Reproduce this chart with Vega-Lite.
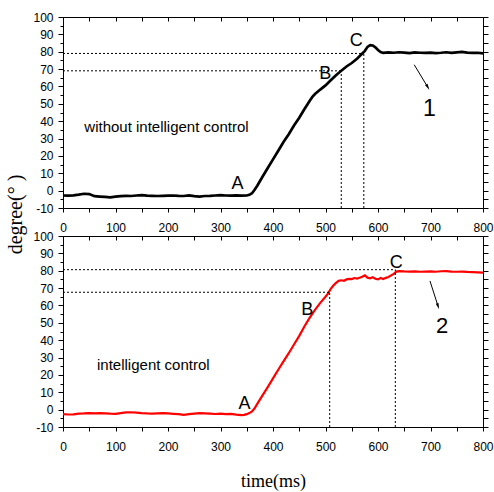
{
  "$schema": "https://vega.github.io/schema/vega-lite/v6.json",
  "padding": {"left": 5, "top": 11, "right": 5, "bottom": 5},
  "spacing": 28,
  "bounds": "flush",
  "config": {
    "view": {"stroke": null},
    "axis": {"grid": false, "domainColor": "#000", "tickColor": "#000", "labelColor": "#000", "labelFont": "Liberation Sans", "labelFontSize": 12, "labelFlush": false, "labelOverlap": false, "titleColor": "#000", "domainWidth": 1, "tickWidth": 1}
  },
  "vconcat": [
    {
      "width": 420,
      "height": 191,
      "resolve": {"axis": {"x": "independent", "y": "independent"}},
      "layer": [
        {
          "data": {"values": [
            {"t":0,"v":-2.8},{"t":10,"v":-2.9},{"t":20,"v":-2.7},{"t":30,"v":-2.3},{"t":40,"v":-1.8},{"t":50,"v":-2.0},{"t":60,"v":-3.2},{"t":70,"v":-3.4},{"t":80,"v":-3.6},{"t":90,"v":-3.9},
            {"t":100,"v":-3.5},{"t":110,"v":-3.2},{"t":120,"v":-3.0},{"t":130,"v":-3.1},{"t":140,"v":-2.8},{"t":150,"v":-2.6},{"t":160,"v":-2.9},{"t":170,"v":-3.0},{"t":180,"v":-3.1},{"t":190,"v":-3.0},
            {"t":200,"v":-2.9},{"t":210,"v":-2.8},{"t":220,"v":-3.0},{"t":230,"v":-3.1},{"t":240,"v":-2.7},{"t":250,"v":-3.2},{"t":260,"v":-3.4},{"t":270,"v":-3.1},{"t":280,"v":-3.0},{"t":290,"v":-2.8},
            {"t":300,"v":-2.6},{"t":310,"v":-2.8},{"t":320,"v":-2.9},{"t":330,"v":-2.7},{"t":340,"v":-2.9},{"t":350,"v":-2.8},{"t":355,"v":-2.4},{"t":360,"v":-1.5},{"t":365,"v":0.5},{"t":370,"v":2.8},
            {"t":380,"v":8},{"t":390,"v":13},{"t":400,"v":18},{"t":410,"v":23},{"t":420,"v":28},{"t":430,"v":32.5},{"t":440,"v":37.5},{"t":450,"v":42},{"t":460,"v":47},{"t":470,"v":51.8},
            {"t":475,"v":54},{"t":480,"v":55.6},{"t":490,"v":58.2},{"t":500,"v":60.6},{"t":510,"v":63.6},{"t":520,"v":66.5},{"t":530,"v":69},{"t":540,"v":71.5},{"t":550,"v":73.5},{"t":560,"v":76},
            {"t":570,"v":79},{"t":575,"v":80.5},{"t":580,"v":82.8},{"t":585,"v":83.8},{"t":590,"v":83.6},{"t":595,"v":82.5},{"t":600,"v":81},{"t":605,"v":79.8},{"t":610,"v":79.3},{"t":620,"v":79.6},
            {"t":630,"v":79.4},{"t":640,"v":79.7},{"t":650,"v":79.5},{"t":660,"v":79.2},{"t":670,"v":79.6},{"t":680,"v":79.4},{"t":690,"v":79.3},{"t":700,"v":79.5},{"t":710,"v":79.2},{"t":720,"v":79.4},
            {"t":730,"v":79.7},{"t":740,"v":79.3},{"t":750,"v":79.6},{"t":760,"v":79.9},{"t":770,"v":79.5},{"t":780,"v":79.3},{"t":790,"v":79.4},{"t":800,"v":79.1}
          ]},
          "mark": {"type": "line", "color": "#000", "strokeWidth": 2.7},
          "encoding": {
            "x": {"field": "t", "type": "quantitative", "scale": {"domain": [0, 800], "nice": false},
                  "axis": {"orient": "bottom", "title": null, "values": [0,50,100,150,200,250,300,350,400,450,500,550,600,650,700,750,800],
                           "labelExpr": "datum.value % 100 === 0 ? '' + datum.value : ''", "tickSize": 4, "labelPadding": 10}},
            "y": {"field": "v", "type": "quantitative", "scale": {"domain": [-10, 100], "nice": false},
                  "axis": {"orient": "left", "values": [-10,-5,0,5,10,15,20,25,30,35,40,45,50,55,60,65,70,75,80,85,90,95,100],
                           "labelExpr": "datum.value % 10 === 0 ? '' + datum.value : ''",
                           "tickSize": {"condition": {"test": "datum.value % 10 === 0", "value": 5}, "value": 3}, "labelPadding": 5,
                           "title": "degree(°  )", "titleFont": "Liberation Serif", "titleFontSize": 20, "titleFontWeight": "normal",
                           "titleAngle": 270, "titleX": -48, "titleY": 197, "titleAlign": "center", "titleBaseline": "middle"}}
          }
        },
        {
          "data": {"values": [
            {"x":0,"x2":573,"y":79,"y2":79},{"x":0,"x2":530,"y":69,"y2":69},{"x":530,"x2":530,"y":-10,"y2":69},{"x":573,"x2":573,"y":-10,"y2":79}
          ]},
          "mark": {"type": "rule", "color": "#000", "strokeWidth": 1, "strokeDash": [2, 2]},
          "encoding": {
            "x": {"field": "x", "type": "quantitative", "axis": {"orient": "top", "title": null, "labels": false, "values": [0,50,100,150,200,250,300,350,400,450,500,550,600,650,700,750,800], "tickSize": -4}},
            "x2": {"field": "x2"},
            "y": {"field": "y", "type": "quantitative", "axis": {"orient": "right", "title": null, "labels": false, "values": [-10,-5,0,5,10,15,20,25,30,35,40,45,50,55,60,65,70,75,80,85,90,95,100], "tickSize": 5}},
            "y2": {"field": "y2"}
          }
        },
        {
          "data": {"values": [{"x":332.5,"y":3.9,"label":"A"},{"x":499.7,"y":67.2,"label":"B"},{"x":558.4,"y":86.2,"label":"C"}]},
          "mark": {"type": "text", "font": "Liberation Sans", "fontSize": 18, "color": "#000", "align": "center", "baseline": "middle"},
          "encoding": {"x": {"field": "x", "type": "quantitative", "axis": null}, "y": {"field": "y", "type": "quantitative", "axis": null}, "text": {"field": "label"}}
        },
        {
          "data": {"values": [{"x":698,"y":46.8,"label":"1"}]},
          "mark": {"type": "text", "font": "Liberation Sans", "fontSize": 23, "color": "#000", "align": "center", "baseline": "middle"},
          "encoding": {"x": {"field": "x", "type": "quantitative", "axis": null}, "y": {"field": "y", "type": "quantitative", "axis": null}, "text": {"field": "label"}}
        },
        {
          "data": {"values": [{"x":197,"y":36.9,"label":"without intelligent control"}]},
          "mark": {"type": "text", "font": "Liberation Sans", "fontSize": 15, "color": "#000", "align": "center", "baseline": "middle"},
          "encoding": {"x": {"field": "x", "type": "quantitative", "axis": null}, "y": {"field": "y", "type": "quantitative", "axis": null}, "text": {"field": "label"}}
        },
        {
          "data": {"values": [{"x":669,"y":72.5,"x2":695,"y2":59.5}]},
          "mark": {"type": "rule", "color": "#000", "strokeWidth": 1},
          "encoding": {"x": {"field": "x", "type": "quantitative", "axis": null}, "x2": {"field": "x2"}, "y": {"field": "y", "type": "quantitative", "axis": null}, "y2": {"field": "y2"}}
        },
        {
          "data": {"values": [{"x":695,"y":59.5}]},
          "mark": {"type": "point", "shape": "M-0.45,-1L0.45,-1L0,1Z", "filled": true, "color": "#000", "opacity": 1, "size": 40, "angle": 330},
          "encoding": {"x": {"field": "x", "type": "quantitative", "axis": null}, "y": {"field": "y", "type": "quantitative", "axis": null}}
        }
      ]
    },
    {
      "width": 420,
      "height": 191,
      "resolve": {"axis": {"x": "independent", "y": "independent"}},
      "layer": [
        {
          "data": {"values": [
            {"t":0,"v":-2.6},{"t":10,"v":-2.8},{"t":20,"v":-2.7},{"t":30,"v":-2.3},{"t":40,"v":-2.2},{"t":50,"v":-2.0},{"t":60,"v":-2.1},{"t":70,"v":-2.0},{"t":80,"v":-2.1},{"t":90,"v":-2.3},
            {"t":100,"v":-2.4},{"t":110,"v":-2.0},{"t":120,"v":-1.6},{"t":130,"v":-1.5},{"t":140,"v":-1.7},{"t":150,"v":-2.0},{"t":160,"v":-2.2},{"t":170,"v":-2.3},{"t":180,"v":-2.1},{"t":190,"v":-2.0},
            {"t":200,"v":-2.2},{"t":210,"v":-2.4},{"t":220,"v":-2.6},{"t":230,"v":-3.0},{"t":240,"v":-2.6},{"t":250,"v":-2.3},{"t":260,"v":-2.0},{"t":270,"v":-2.1},{"t":280,"v":-2.3},{"t":290,"v":-2.5},
            {"t":300,"v":-2.3},{"t":310,"v":-2.6},{"t":320,"v":-2.4},{"t":330,"v":-2.9},{"t":340,"v":-3.2},{"t":345,"v":-3.0},{"t":350,"v":-2.6},{"t":355,"v":-2.0},{"t":360,"v":-1.0},{"t":365,"v":0.8},
            {"t":370,"v":3.3},{"t":380,"v":8.2},{"t":390,"v":13},{"t":400,"v":18},{"t":410,"v":23},{"t":420,"v":27.8},{"t":430,"v":32.5},{"t":440,"v":37.5},{"t":450,"v":42.5},{"t":460,"v":48},
            {"t":470,"v":53},{"t":480,"v":57.5},{"t":490,"v":61.5},{"t":500,"v":65},{"t":505,"v":67},{"t":510,"v":69.5},{"t":515,"v":71.5},{"t":520,"v":73},{"t":525,"v":74.2},{"t":530,"v":74.5},
            {"t":535,"v":74.2},{"t":540,"v":75},{"t":545,"v":75.3},{"t":550,"v":75.2},{"t":555,"v":75.8},{"t":560,"v":75.5},{"t":565,"v":76.0},{"t":570,"v":76.5},{"t":575,"v":77.3},{"t":580,"v":76.0},
            {"t":585,"v":75.6},{"t":590,"v":76.2},{"t":595,"v":75.4},{"t":600,"v":75.0},{"t":605,"v":75.8},{"t":610,"v":75.2},{"t":615,"v":75.9},{"t":620,"v":76.4},{"t":625,"v":77.3},{"t":630,"v":78.2},
            {"t":635,"v":79.5},{"t":640,"v":79.8},{"t":650,"v":79.6},{"t":660,"v":79.5},{"t":670,"v":79.6},{"t":680,"v":79.4},{"t":690,"v":79.5},{"t":700,"v":79.6},{"t":710,"v":79.4},{"t":720,"v":79.7},
            {"t":730,"v":79.8},{"t":740,"v":79.5},{"t":750,"v":79.4},{"t":760,"v":79.5},{"t":770,"v":79.3},{"t":780,"v":79.2},{"t":790,"v":79.1},{"t":800,"v":78.9}
          ]},
          "mark": {"type": "line", "color": "#ff0000", "strokeWidth": 2.2},
          "encoding": {
            "x": {"field": "t", "type": "quantitative", "scale": {"domain": [0, 800], "nice": false},
                  "axis": {"orient": "bottom", "values": [0,50,100,150,200,250,300,350,400,450,500,550,600,650,700,750,800],
                           "labelExpr": "datum.value % 100 === 0 ? '' + datum.value : ''", "tickSize": 4, "labelPadding": 10,
                           "title": "time(ms)", "titleFont": "Liberation Serif", "titleFontSize": 18, "titleFontWeight": "normal",
                           "titleY": 54, "titleBaseline": "middle"}},
            "y": {"field": "v", "type": "quantitative", "scale": {"domain": [-10, 100], "nice": false},
                  "axis": {"orient": "left", "title": null, "values": [-10,-5,0,5,10,15,20,25,30,35,40,45,50,55,60,65,70,75,80,85,90,95,100],
                           "labelExpr": "datum.value % 10 === 0 ? '' + datum.value : ''",
                           "tickSize": {"condition": {"test": "datum.value % 10 === 0", "value": 5}, "value": 3}, "labelPadding": 5}}
          }
        },
        {
          "data": {"values": [
            {"x":0,"x2":633,"y":80.6,"y2":80.6},{"x":0,"x2":508,"y":67.6,"y2":67.6},{"x":508,"x2":508,"y":-10,"y2":67.6},{"x":633,"x2":633,"y":-10,"y2":80.6}
          ]},
          "mark": {"type": "rule", "color": "#000", "strokeWidth": 1, "strokeDash": [2, 2]},
          "encoding": {
            "x": {"field": "x", "type": "quantitative", "axis": {"orient": "top", "title": null, "labels": false, "values": [0,50,100,150,200,250,300,350,400,450,500,550,600,650,700,750,800], "tickSize": -4}},
            "x2": {"field": "x2"},
            "y": {"field": "y", "type": "quantitative", "axis": {"orient": "right", "title": null, "labels": false, "values": [-10,-5,0,5,10,15,20,25,30,35,40,45,50,55,60,65,70,75,80,85,90,95,100], "tickSize": 5}},
            "y2": {"field": "y2"}
          }
        },
        {
          "data": {"values": [{"x":345.9,"y":3.1,"label":"A"},{"x":465.4,"y":57.2,"label":"B"},{"x":634.6,"y":84.6,"label":"C"}]},
          "mark": {"type": "text", "font": "Liberation Sans", "fontSize": 18, "color": "#000", "align": "center", "baseline": "middle"},
          "encoding": {"x": {"field": "x", "type": "quantitative", "axis": null}, "y": {"field": "y", "type": "quantitative", "axis": null}, "text": {"field": "label"}}
        },
        {
          "data": {"values": [{"x":722.3,"y":48.1,"label":"2"}]},
          "mark": {"type": "text", "font": "Liberation Sans", "fontSize": 22, "color": "#000", "align": "center", "baseline": "middle"},
          "encoding": {"x": {"field": "x", "type": "quantitative", "axis": null}, "y": {"field": "y", "type": "quantitative", "axis": null}, "text": {"field": "label"}}
        },
        {
          "data": {"values": [{"x":172,"y":25.5,"label":"intelligent control"}]},
          "mark": {"type": "text", "font": "Liberation Sans", "fontSize": 15, "color": "#000", "align": "center", "baseline": "middle"},
          "encoding": {"x": {"field": "x", "type": "quantitative", "axis": null}, "y": {"field": "y", "type": "quantitative", "axis": null}, "text": {"field": "label"}}
        },
        {
          "data": {"values": [{"x":699,"y":74.1,"x2":714.5,"y2":59.5}]},
          "mark": {"type": "rule", "color": "#000", "strokeWidth": 1},
          "encoding": {"x": {"field": "x", "type": "quantitative", "axis": null}, "x2": {"field": "x2"}, "y": {"field": "y", "type": "quantitative", "axis": null}, "y2": {"field": "y2"}}
        },
        {
          "data": {"values": [{"x":714.5,"y":59.5}]},
          "mark": {"type": "point", "shape": "M-0.45,-1L0.45,-1L0,1Z", "filled": true, "color": "#000", "opacity": 1, "size": 40, "angle": 342},
          "encoding": {"x": {"field": "x", "type": "quantitative", "axis": null}, "y": {"field": "y", "type": "quantitative", "axis": null}}
        }
      ]
    }
  ]
}
